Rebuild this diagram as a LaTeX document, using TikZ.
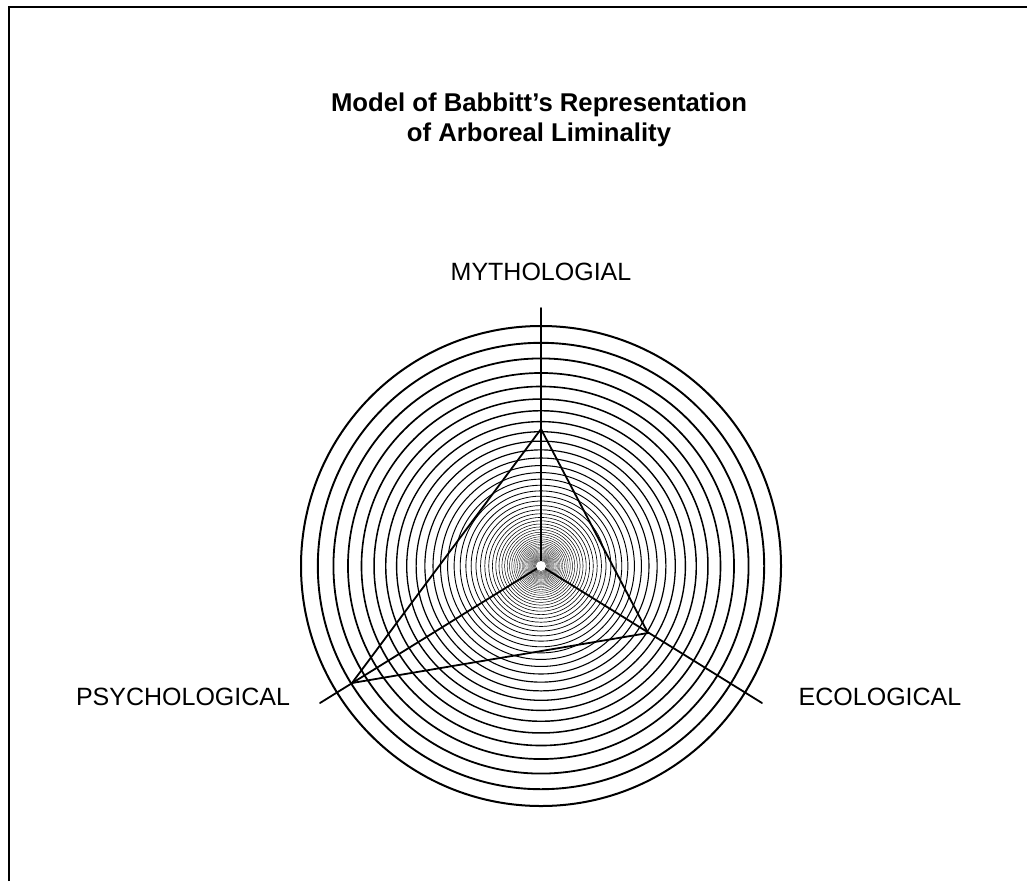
\documentclass[tikz,border=0pt]{standalone}
\usepackage{fontspec}
\setmainfont{Liberation Sans}
\begin{document}
\begin{tikzpicture}[x=1pt,y=-1pt,
  frameline/.style={line width=2pt,black},
  axisline/.style={line width=1.8pt,black,line cap=round},
  triline/.style={line width=1.8pt,black,line join=miter},
  axislabel/.style={font=\fontsize{25}{29}\selectfont,inner sep=0pt},
  titlelabel/.style={font=\bfseries\fontsize{25.7}{29.5}\selectfont,align=center,inner sep=0pt}]
  \useasboundingbox (0,0) rectangle (1027,881);
  \fill[white] (0,0) rectangle (1027,881);

  % open frame: top and left edges
  \draw[frameline] (9,881) -- (9,7) -- (1027,7);

  % title
  \node[titlelabel] (title) at (539,120) {Model of Babbitt’s Representation\\of Arboreal Liminality};

  % centre of the rings and the ends of the three axes
  \coordinate (c) at (541,566);
  \coordinate (mEnd) at (541,308);
  \coordinate (eEnd) at (762,703);
  \coordinate (pEnd) at (320,703);

  % concentric rings, shrinking by a constant ratio
  \foreach \k in {0,...,62} {
    \pgfmathsetmacro\rr{240*0.93^\k}
    \pgfmathsetmacro\lw{2.0*(\rr/240)^0.75}
    \draw[line width=\lw pt,black] (c) circle[radius=\rr pt];
  }

  % axes
  \draw[axisline] (c) -- (mEnd);
  \draw[axisline] (c) -- (eEnd);
  \draw[axisline] (c) -- (pEnd);

  % profile triangle
  \coordinate (tM) at (541,429);
  \coordinate (tE) at (648,633);
  \coordinate (tP) at (352,683);
  \draw[triline] (tM) -- (tE) -- (tP) -- cycle;

  % clear spot at the centre
  \fill[white] (c) circle[radius=5pt];

  % axis labels
  \node[axislabel] (myth) at (541,272) {MYTHOLOGIAL};
  \node[axislabel] (psych) at (183,697) {PSYCHOLOGICAL};
  \node[axislabel] (eco) at (880,697) {ECOLOGICAL};
\end{tikzpicture}
\end{document}
